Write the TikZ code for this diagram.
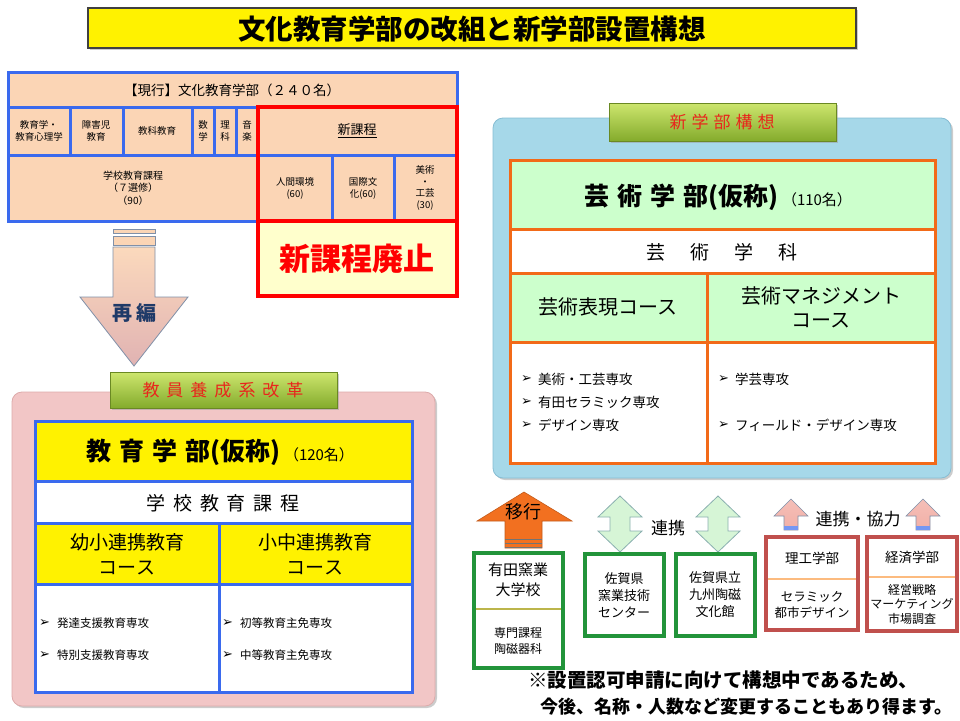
\documentclass[tikz,border=0pt]{standalone}
\usepackage{fontspec}
\setmainfont{Noto Sans CJK JP}
\newfontfamily\dvfont{DejaVu Sans}
\usetikzlibrary{shadows}
\definecolor{peach}{HTML}{FBD5B5}
\definecolor{tblue}{HTML}{3A6AEE}
\definecolor{lyellow}{HTML}{FFFFCC}
\definecolor{pinkbox}{HTML}{F2C6C6}
\definecolor{pinkline}{HTML}{DDAAAA}
\definecolor{skybox}{HTML}{A6D8E9}
\definecolor{skyline}{HTML}{86BDD3}
\definecolor{orangeln}{HTML}{F26A18}
\definecolor{lgreen}{HTML}{CCFFCC}
\definecolor{gbox}{HTML}{22943A}
\definecolor{rbox}{HTML}{C0504D}
\definecolor{lblred}{HTML}{E8261C}
\definecolor{navy}{HTML}{1F3A68}
\definecolor{arrowedge}{HTML}{8090A8}
\definecolor{lbltop}{HTML}{CDE66E}
\definecolor{lblbot}{HTML}{84AB2C}
\definecolor{mint}{HTML}{D6F5D6}
\definecolor{mintedge}{HTML}{8AAFAF}
\definecolor{orangearr}{HTML}{F27020}
\definecolor{pinkarr}{HTML}{F2AFA6}
\newcommand\fsz[2]{\fontsize{#1}{#2}\selectfont}
\newcommand\ls[1]{\hspace{#1}}
\newcommand\mk{{\dvfont\fsz{13}{14}➢}}
\tikzset{
  txt/.style={inner sep=0pt, align=center},
  lft/.style={inner sep=0pt, anchor=west},
  shad/.style={drop shadow={shadow xshift=2pt,shadow yshift=-2pt,fill=black!40}},
  lbl/.style={draw=lblbot!80!black, line width=0.6pt, top color=lbltop, bottom color=lblbot, shad},
}
\begin{document}
\begin{tikzpicture}[x=1pt,y=-1pt]
\useasboundingbox (0,0) rectangle (960,720);

% ---------- title ----------
\draw[draw=black!75, line width=1.2pt, fill=yellow, shad] (88,8) rectangle (856,48);
\node[txt, font=\fsz{27.5}{30}\bfseries] (title) at (472,29) {文化教育学部の改組と新学部設置構想};

% ---------- current faculty table ----------
\fill[peach] (8,72) rectangle (457,221);
\fill[lyellow] (258,221) rectangle (457,296);
\draw[tblue, line width=3pt] (8,72) rectangle (457,221);
\draw[tblue, line width=3pt] (8,107) -- (457,107) (8,155) -- (457,155);
\draw[tblue, line width=3pt] (70,107)--(70,155) (123,107)--(123,155) (192,107)--(192,155)
  (214,107)--(214,155) (236,107)--(236,155) (332,155)--(332,221) (394,155)--(394,221);
\draw[red, line width=4.5pt] (258,107) rectangle (457,296) (258,221)--(457,221);

\node[txt, font=\fsz{13.5}{16}] (cur) at (232,90) {【現行】文化教育学部（２４０名）};
\node[txt, font=\fsz{9.5}{12}] (c1) at (39,131) {教育学・\\教育心理学};
\node[txt, font=\fsz{9.5}{12}] (c2) at (96,131) {障害児\\教育};
\node[txt, font=\fsz{9.5}{12}] (c3) at (157,131) {教科教育};
\node[txt, font=\fsz{9.5}{12}] (c4) at (203,131) {数\\学};
\node[txt, font=\fsz{9.5}{12}] (c5) at (225,131) {理\\科};
\node[txt, font=\fsz{9.5}{12}] (c6) at (247,131) {音\\楽};
\node[txt, font=\fsz{13}{16}] (shin) at (357,131) {\underline{新課程}};
\node[txt, font=\fsz{10}{12.5}] (gakko) at (133,188) {学校教育課程\\（７選修）\\（90）};
\node[txt, font=\fsz{9.5}{12}] (ningen) at (295,188) {人間環境\\(60)};
\node[txt, font=\fsz{9.5}{12}] (kokusai) at (363,188) {国際文\\化(60)};
\node[txt, font=\fsz{9.5}{11.5}] (bijutsu) at (425,188) {美術\\・\\工芸\\(30)};
\node[txt, font=\fsz{31}{34}\bfseries, text=red] (haishi) at (357,259) {新課程廃止};

% ---------- 再編 arrow ----------
\draw[draw=arrowedge, line width=0.8pt, fill=peach] (113,229) rectangle (155,233);
\draw[draw=arrowedge, line width=0.8pt, fill=peach] (113,236) rectangle (155,245);
\draw[draw=arrowedge, line width=0.8pt, top color=peach!90!white, bottom color=pinkline!90!white]
  (113,247) -- (155,247) -- (155,297) -- (188,297) -- (134,366) -- (80,297) -- (113,297) -- cycle;
\node[txt, font=\fsz{20}{24}\bfseries, text=navy] (saihen) at (134,313) {再\ls{4pt}編};

% ---------- teacher education box ----------
\draw[draw=pinkline, line width=0.8pt, fill=pinkbox, rounded corners=10pt, shad] (12,392) rectangle (435,706);
\draw[lbl] (110,372) rectangle (337,408);
\node[txt, font=\fsz{17}{20}, text=lblred] (kyoin) at (223,390) {教\ls{7pt}員\ls{7pt}養\ls{7pt}成\ls{7pt}系\ls{7pt}改\ls{7pt}革};

\fill[yellow] (35,421) rectangle (412,481);
\fill[white] (35,481) rectangle (412,523);
\fill[yellow] (35,523) rectangle (412,584);
\fill[white] (35,584) rectangle (412,692);
\draw[tblue, line width=3pt] (35,421) rectangle (412,692);
\draw[tblue, line width=3pt] (35,481)--(412,481) (35,523)--(412,523) (35,584)--(412,584) (219,523)--(219,692);

\node[txt] (kyoiku) at (220,452) {{\fsz{25}{28}\bfseries 教\ls{8pt}育\ls{8pt}学\ls{8pt}部(仮称)}\ls{4pt}{\fsz{15}{18}（120名）}};
\node[txt, font=\fsz{19}{22}] (gkk) at (223,503) {学\ls{8pt}校\ls{8pt}教\ls{8pt}育\ls{8pt}課\ls{8pt}程};
\node[txt, font=\fsz{19}{25}] (yosho) at (127,554) {幼小連携教育\\コース};
\node[txt, font=\fsz{19}{25}] (shochu) at (315,554) {小中連携教育\\コース};
\node[lft] (m1) at (39,623) {\mk};
\node[lft, font=\fsz{11.5}{14}] (l1) at (57,623) {発達支援教育専攻};
\node[lft] (m2) at (39,655) {\mk};
\node[lft, font=\fsz{11.5}{14}] (l2) at (57,655) {特別支援教育専攻};
\node[lft] (m3) at (222,623) {\mk};
\node[lft, font=\fsz{11.5}{14}] (r1) at (240,623) {初等教育主免専攻};
\node[lft] (m4) at (222,655) {\mk};
\node[lft, font=\fsz{11.5}{14}] (r2) at (240,655) {中等教育主免専攻};

% ---------- new faculty box ----------
\draw[draw=skyline, line width=0.8pt, fill=skybox, rounded corners=10pt, shad] (493,118) rectangle (951,478);
\draw[lbl] (609,103) rectangle (836,141);
\node[txt, font=\fsz{17}{20}, text=lblred] (shingaku) at (722,122) {新\ls{5pt}学\ls{5pt}部\ls{5pt}構\ls{5pt}想};

\fill[lgreen] (510,160) rectangle (935,229);
\fill[white] (510,229) rectangle (935,273);
\fill[lgreen] (510,273) rectangle (935,342);
\fill[white] (510,342) rectangle (935,463);
\draw[orangeln, line width=3pt] (510,160) rectangle (935,463);
\draw[orangeln, line width=3pt] (510,229)--(935,229) (510,273)--(935,273) (510,342)--(935,342) (707,273)--(707,463);

\node[txt] (geijutsu) at (718,197) {{\fsz{25}{28}\bfseries 芸\ls{8pt}術\ls{8pt}学\ls{8pt}部(仮称)}\ls{4pt}{\fsz{15}{18}（110名）}};
\node[txt, font=\fsz{19}{22}] (gkka) at (722,252) {芸\ls{25pt}術\ls{25pt}学\ls{25pt}科};
\node[txt, font=\fsz{20}{24}] (hyogen) at (608,307) {芸術表現コース};
\node[txt, font=\fsz{20}{24}] (mane) at (821,307) {芸術マネジメント\\コース};
\node[lft] (a1) at (521,379) {\mk};
\node[lft, font=\fsz{13.5}{16}] (al1) at (538,379) {美術・工芸専攻};
\node[lft] (a2) at (521,402) {\mk};
\node[lft, font=\fsz{13.5}{16}] (al2) at (538,402) {有田セラミック専攻};
\node[lft] (a3) at (521,425) {\mk};
\node[lft, font=\fsz{13.5}{16}] (al3) at (538,425) {デザイン専攻};
\node[lft] (b1) at (718,379) {\mk};
\node[lft, font=\fsz{13.5}{16}] (bl1) at (735,379) {学芸専攻};
\node[lft] (b2) at (718,425) {\mk};
\node[lft, font=\fsz{13.5}{16}] (bl2) at (735,425) {フィールド・デザイン専攻};

% ---------- 移行 arrow and Arita box ----------
\draw[draw=orangearr!80!black, line width=0.6pt, fill=orangearr]
  (505,548) -- (505,521) -- (477,521) -- (524,492) -- (572,521) -- (542,521) -- (542,548) -- cycle;
\draw[black!55, line width=1pt] (505,539)--(542,539) (505,543)--(542,543) (505,547)--(542,547);
\node[txt, font=\fsz{18}{21}] (iko) at (523,512) {移行};

\draw[gbox, line width=4pt, fill=white] (474,553) rectangle (563,668);
\draw[olive!60!white, line width=2pt] (476,609) -- (561,609);
\node[txt, font=\fsz{15}{20}] (arita) at (518,580) {有田窯業\\大学校};
\node[txt, font=\fsz{12}{16}] (senmon) at (518,641) {専門課程\\陶磁器科};

% ---------- 連携 arrows ----------
\foreach \cx in {620,718} {
  \draw[draw=mintedge, line width=0.8pt, fill=mint]
    (\cx,496) -- (\cx+22,517) -- (\cx+10,517) -- (\cx+10,531) -- (\cx+22,531) -- (\cx,552)
    -- (\cx-22,531) -- (\cx-10,531) -- (\cx-10,517) -- (\cx-22,517) -- cycle;
}
\node[txt, font=\fsz{17}{20}] (renkei) at (668,528) {連携};

\draw[gbox, line width=4pt, fill=white] (585,554) rectangle (664,636);
\node[txt, font=\fsz{13}{17}] (yogyo) at (624,595) {佐賀県\\窯業技術\\センター};
\draw[gbox, line width=4pt, fill=white] (676,554) rectangle (755,636);
\node[txt, font=\fsz{13}{17}] (toji) at (715,595) {佐賀県立\\九州陶磁\\文化館};

% ---------- 連携・協力 arrows ----------
\foreach \cx in {791,923} {
  \draw[draw=arrowedge, line width=0.6pt, top color=pinkarr!80!white, bottom color=pinkarr]
    (\cx,499) -- (\cx+17,516) -- (\cx+7,516) -- (\cx+7,530) -- (\cx-7,530) -- (\cx-7,516) -- (\cx-17,516) -- cycle;
  \fill[tblue!70!white] (\cx-7,526) rectangle (\cx+7,530);
}
\node[txt, font=\fsz{17}{20}] (kyoryoku) at (858,519) {連携・協力};

\draw[rbox, line width=4pt, fill=white] (766,537) rectangle (858,630);
\draw[peach!70!orange, line width=1.5pt] (768,579) -- (856,579);
\node[txt, font=\fsz{13.5}{16}] (riko) at (812,558) {理工学部};
\node[txt, font=\fsz{12.5}{16}] (cera) at (812,605) {セラミック\\都市デザイン};
\draw[rbox, line width=4pt, fill=white] (867,537) rectangle (957,631);
\draw[peach!70!orange, line width=1.5pt] (869,577) -- (955,577);
\node[txt, font=\fsz{13.5}{16}] (keizai) at (912,557) {経済学部};
\node[txt, font=\fsz{12}{14.5}] (keiei) at (912,604) {経営戦略\\マーケティング\\市場調査};

% ---------- footnote ----------
\node[lft, font=\fsz{19.5}{22}\bfseries] (note1) at (528,680) {※設置認可申請に向けて構想中であるため、};
\node[lft, font=\fsz{18}{22}\bfseries] (note2) at (540,707) {今後、名称・人数など変更することもあり得ます。};
\end{tikzpicture}
\end{document}
